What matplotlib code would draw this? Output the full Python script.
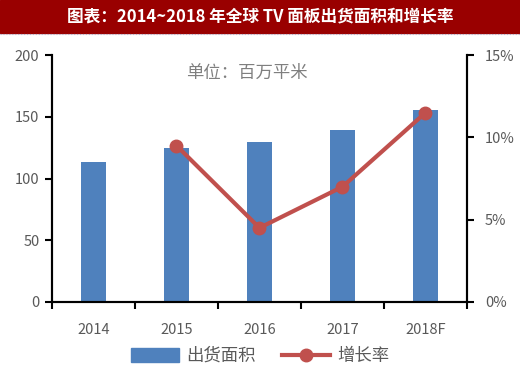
import numpy as np
import matplotlib
matplotlib.use('Agg')
import matplotlib.pyplot as plt
from matplotlib.patches import Rectangle
from matplotlib.lines import Line2D

# Data
years = ['2014', '2015', '2016', '2017', '2018F']
area = [113, 125, 130, 139, 155.5]          # 出货面积, 百万平米
growth = [np.nan, 9.5, 4.5, 7.0, 11.5]      # 增长率, %
left_ticks = [0, 50, 100, 150, 200]
right_ticks = [0, 5, 10, 15]

plt.rcParams['font.family'] = ['Noto Sans CJK SC', 'DejaVu Sans']

bar_color = '#4F81BD'
line_color = '#C0504D'
grey = '#595959'

fig = plt.figure(figsize=(5.2, 3.7), dpi=100)
ax = fig.add_axes([0.1, 0.184, 0.798, 0.667])

x = np.arange(len(years))
ax.bar(x, area, width=0.3, color=bar_color, zorder=2)
ax.set_xlim(-0.5, len(years) - 0.5)
ax.set_ylim(0, 200)
ax.set_yticks(left_ticks)
ax.set_xticks(x)
ax.set_xticklabels(years)
ax.set_xticks(np.arange(len(years) + 1) - 0.5, minor=True)
ax.tick_params(axis='x', which='major', length=0, pad=15,
               labelsize=10.5, labelcolor=grey)
ax.tick_params(axis='x', which='minor', length=5, width=1.5, direction='out')
ax.tick_params(axis='y', length=5, width=1.5, labelsize=10.5,
               labelcolor=grey, pad=4)
for s in ['left', 'bottom', 'right']:
    ax.spines[s].set_linewidth(1.5)
ax.spines['top'].set_visible(False)

ax2 = ax.twinx()
ax2.plot(x, growth, color=line_color, lw=3, marker='o', markersize=9,
         zorder=3)
ax2.set_ylim(0, 15)
ax2.set_yticks(right_ticks)
ax2.set_yticklabels([f'{t}%' for t in right_ticks])
ax2.tick_params(axis='y', length=5, width=1.5, labelsize=10.5,
                labelcolor=grey, pad=8)
for s in ['left', 'bottom', 'right']:
    ax2.spines[s].set_linewidth(1.5)
ax2.spines['top'].set_visible(False)

ax.text(0.47, 0.93, '单位：百万平米', transform=ax.transAxes, ha='center',
        va='center', fontsize=12.5, color='#7f7f7f')

# Title bar
fig.patches.append(Rectangle((0, 1 - 33 / 370), 1, 33 / 370,
                             transform=fig.transFigure, color='#990000',
                             zorder=0))
fig.add_artist(Line2D([0, 1], [1 - 34 / 370, 1 - 34 / 370],
                      transform=fig.transFigure, color='#b0b0d0', lw=0.8,
                      linestyle=':'))
fig.text(0.5, 1 - 16.5 / 370, '图表：2014~2018 年全球 TV 面板出货面积和增长率',
         ha='center', va='center', color='white', fontsize=12,
         fontweight='bold')

# Legend
handles = [Rectangle((0, 0), 1, 1, color=bar_color),
           Line2D([], [], color=line_color, lw=3, marker='o', markersize=9)]
fig.legend(handles, ['出货面积', '增长率'], loc='center',
           bbox_to_anchor=(0.5, 1 - 356 / 370), ncol=2, frameon=False,
           fontsize=12.5, handlelength=2.8, handleheight=0.8,
           columnspacing=1.5, handletextpad=0.4, labelcolor=grey)

plt.savefig('out.png', dpi=100)
